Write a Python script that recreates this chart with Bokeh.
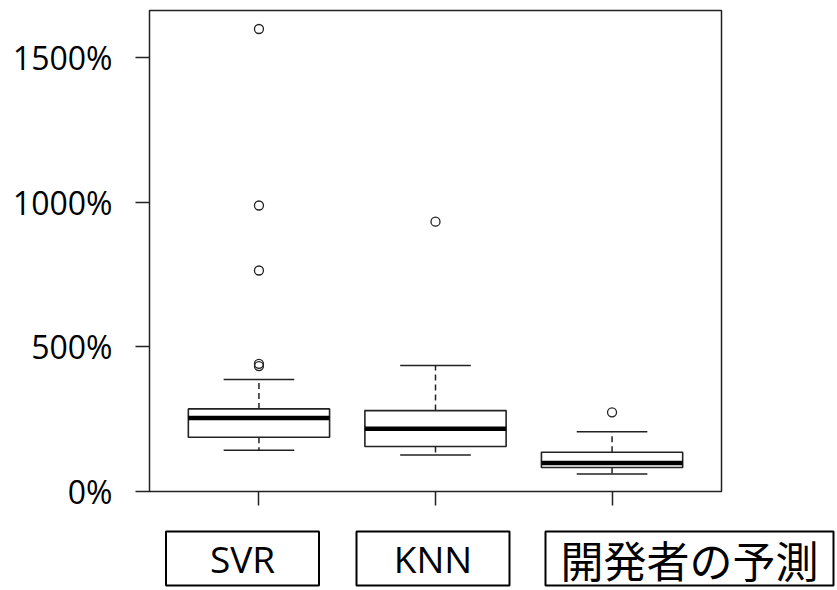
from bokeh.plotting import figure
from bokeh.models import Range1d, ColumnDataSource
from bokeh.layouts import column
from bokeh.embed import file_html
from bokeh.resources import INLINE

# ---- data ----
categories = ["SVR", "KNN", "開発者の予測"]
lower_whisker = [142, 125, 60]
q1 = [187, 155, 82]
median = [253, 216, 98]
q3 = [285, 279, 135]
upper_whisker = [387, 435, 206]
outlier_cat = ["SVR", "SVR", "SVR", "SVR", "SVR", "KNN", "開発者の予測"]
outlier_val = [433, 441, 764, 989, 1600, 933, 273]
y_ticks = [0, 500, 1000, 1500]
y_tick_labels = ["0%", "500%", "1000%", "1500%"]

# ---- layout constants ----
W = 837
H_TOP, H_BOT = 520, 70
BL, BR, BT, BB = 149, 116, 10, 29
X0, X1 = 0.38, 3.62
Y0, Y1 = -1, 1664

xs = [i + 1 for i in range(len(categories))]
pos = dict(zip(categories, xs))
outlier_x = [pos[c] for c in outlier_cat]

p = figure(width=W, height=H_TOP, x_range=Range1d(X0, X1), y_range=Range1d(Y0, Y1),
           output_backend="svg", toolbar_location=None,
           min_border_left=BL, min_border_right=BR, min_border_top=BT, min_border_bottom=BB)
p.frame_align = False
p.grid.visible = False
p.background_fill_color = "white"
p.border_fill_color = "white"
p.outline_line_color = "#222222"
p.outline_line_width = 1.5
p.outline_line_alpha = 1.0

# y axis
p.yaxis.ticker = y_ticks
p.yaxis.major_label_overrides = dict(zip(y_ticks, y_tick_labels))
p.yaxis.axis_line_color = None
p.yaxis.major_tick_out = 14
p.yaxis.major_tick_in = 0
p.yaxis.minor_tick_line_color = None
p.yaxis.major_tick_line_color = "#222222"
p.yaxis.major_tick_line_width = 1.5
p.yaxis.major_label_text_font = "Open Sans"
p.yaxis.major_label_text_font_size = "32px"
p.yaxis.major_label_text_color = "black"
p.yaxis.major_label_standoff = 23

# x axis (ticks only; category names are drawn in framed boxes below)
p.xaxis.ticker = xs
p.xaxis.major_label_overrides = {x: "" for x in xs}
p.xaxis.major_label_text_font_size = "0px"
p.xaxis.major_label_standoff = 0
p.xaxis.axis_line_color = None
p.xaxis.major_tick_out = 14
p.xaxis.major_tick_in = 0
p.xaxis.minor_tick_line_color = None
p.xaxis.major_tick_line_color = "#222222"
p.xaxis.major_tick_line_width = 1.5

# whiskers
p.segment(x0=xs, y0=q3, x1=xs, y1=upper_whisker, line_color="#222222", line_width=1.5, line_dash="6 4")
p.segment(x0=xs, y0=q1, x1=xs, y1=lower_whisker, line_color="#222222", line_width=1.5, line_dash="6 4")
# caps
p.segment(x0=[x - 0.2 for x in xs], y0=upper_whisker, x1=[x + 0.2 for x in xs], y1=upper_whisker,
          line_color="#222222", line_width=1.5)
p.segment(x0=[x - 0.2 for x in xs], y0=lower_whisker, x1=[x + 0.2 for x in xs], y1=lower_whisker,
          line_color="#222222", line_width=1.5)
# boxes
p.vbar(x=xs, width=0.8, bottom=q1, top=q3, fill_color="white", line_color="#222222", line_width=1.6)
# medians
p.segment(x0=[x - 0.4 for x in xs], y0=median, x1=[x + 0.4 for x in xs], y1=median,
          line_color="black", line_width=4.5, line_cap="butt")
# outliers
p.scatter(x=outlier_x, y=outlier_val, marker="circle", size=9, fill_color=None,
          line_color="#222222", line_width=1.3)

# ---- strip below with the framed category labels (pixel layout) ----
q = figure(width=W, height=H_BOT, x_range=Range1d(0, W), y_range=Range1d(0, H_BOT),
           output_backend="svg", toolbar_location=None,
           x_axis_location=None, y_axis_location=None,
           min_border_left=0, min_border_right=0, min_border_top=0, min_border_bottom=0)
q.frame_align = False
q.grid.visible = False
q.outline_line_color = None
q.background_fill_color = "white"
q.border_fill_color = "white"

label_src = ColumnDataSource(dict(
    text=categories,
    cx=[242, 432.5, 689],
    cy=[32, 32, 32],
    bw=[153, 153, 288],
    bh=[54, 54, 54],
    font=["Open Sans", "Open Sans", "Noto Sans CJK JP"],
    size=["37px", "37px", "43px"],
))
q.rect(x="cx", y="cy", width="bw", height="bh", source=label_src,
       fill_color="white", line_color="black", line_width=2)
q.text(x="cx", y="cy", text="text", source=label_src, text_align="center",
       text_baseline="middle", text_font="font", text_font_size="size", text_color="black")

layout = column(p, q, spacing=0)
open("out.html", "w").write(file_html(layout, INLINE))
